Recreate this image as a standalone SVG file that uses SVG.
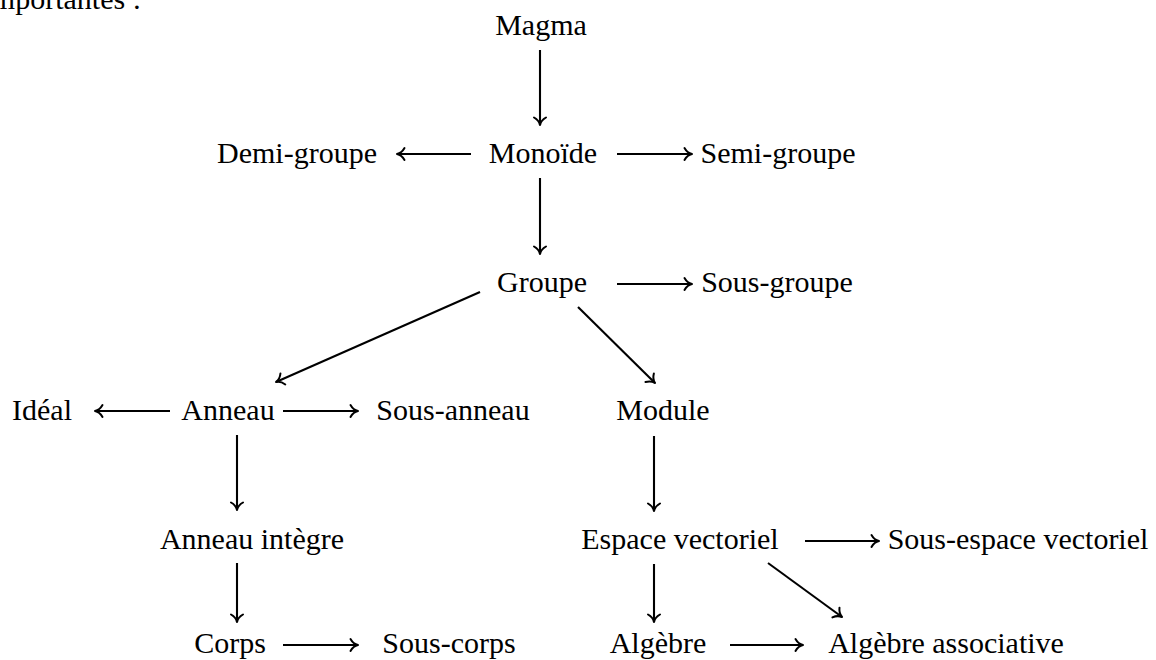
<svg xmlns="http://www.w3.org/2000/svg" width="1156" height="660" viewBox="0 0 1156 660">
<style>
.t text{font-size:30px;fill:#000;text-anchor:middle}
.c line{stroke:#000;stroke-width:2.1;marker-end:url(#to)}
</style>
<defs>
<marker id="to" markerUnits="userSpaceOnUse" viewBox="-9 -7 11 14" markerWidth="11" markerHeight="14" refX="0" refY="0" orient="auto" overflow="visible">
<path d="M-7.5,-6 C-5.5,-2.4 -2.7,-0.6 0,0 C-2.7,0.6 -5.5,2.4 -7.5,6" fill="none" stroke="#000" stroke-width="2" stroke-linecap="round" stroke-linejoin="round"/>
</marker>
</defs>
<rect width="1156" height="660" fill="#fff"/>
<g class="t" font-family="'Liberation Serif', 'Times New Roman', 'DejaVu Serif', serif">
<text x="141" y="9" style="text-anchor:end">mportantes :</text>
<g id="magma"><text x="541" y="35">Magma</text></g>
<g id="monoide"><text x="543" y="163">Monoïde</text></g>
<g id="demi-groupe"><text x="297" y="163">Demi-groupe</text></g>
<g id="semi-groupe"><text x="778" y="163">Semi-groupe</text></g>
<g id="groupe"><text x="542" y="292">Groupe</text></g>
<g id="sous-groupe"><text x="777" y="292">Sous-groupe</text></g>
<g id="ideal"><text x="42" y="420">Idéal</text></g>
<g id="anneau"><text x="228" y="420">Anneau</text></g>
<g id="sous-anneau"><text x="453" y="420">Sous-anneau</text></g>
<g id="module"><text x="663" y="420">Module</text></g>
<g id="anneau-integre"><text x="252" y="549">Anneau intègre</text></g>
<g id="espace-vectoriel"><text x="680" y="549">Espace vectoriel</text></g>
<g id="sous-espace-vectoriel"><text x="1018" y="549">Sous-espace vectoriel</text></g>
<g id="corps"><text x="230" y="653">Corps</text></g>
<g id="sous-corps"><text x="449" y="653">Sous-corps</text></g>
<g id="algebre"><text x="658" y="653">Algèbre</text></g>
<g id="algebre-associative"><text x="946" y="653">Algèbre associative</text></g>
</g>
<g id="connectors" class="c">
<line x1="540" y1="50" x2="540" y2="125"/>
<line x1="471" y1="154" x2="397" y2="154"/>
<line x1="617" y1="154" x2="692" y2="154"/>
<line x1="540" y1="178" x2="540" y2="254"/>
<line x1="617" y1="284" x2="692" y2="284"/>
<line x1="480" y1="292" x2="276" y2="382"/>
<line x1="578" y1="307" x2="655" y2="383"/>
<line x1="170" y1="411" x2="95" y2="411"/>
<line x1="283" y1="411" x2="358" y2="411"/>
<line x1="237" y1="435" x2="237" y2="510"/>
<line x1="654" y1="436" x2="654" y2="511"/>
<line x1="805" y1="541" x2="879" y2="541"/>
<line x1="237" y1="563" x2="237" y2="622"/>
<line x1="654" y1="564" x2="654" y2="622"/>
<line x1="768" y1="563" x2="842" y2="617"/>
<line x1="283" y1="645" x2="358" y2="645"/>
<line x1="730" y1="645" x2="803" y2="645"/>
</g>
</svg>
